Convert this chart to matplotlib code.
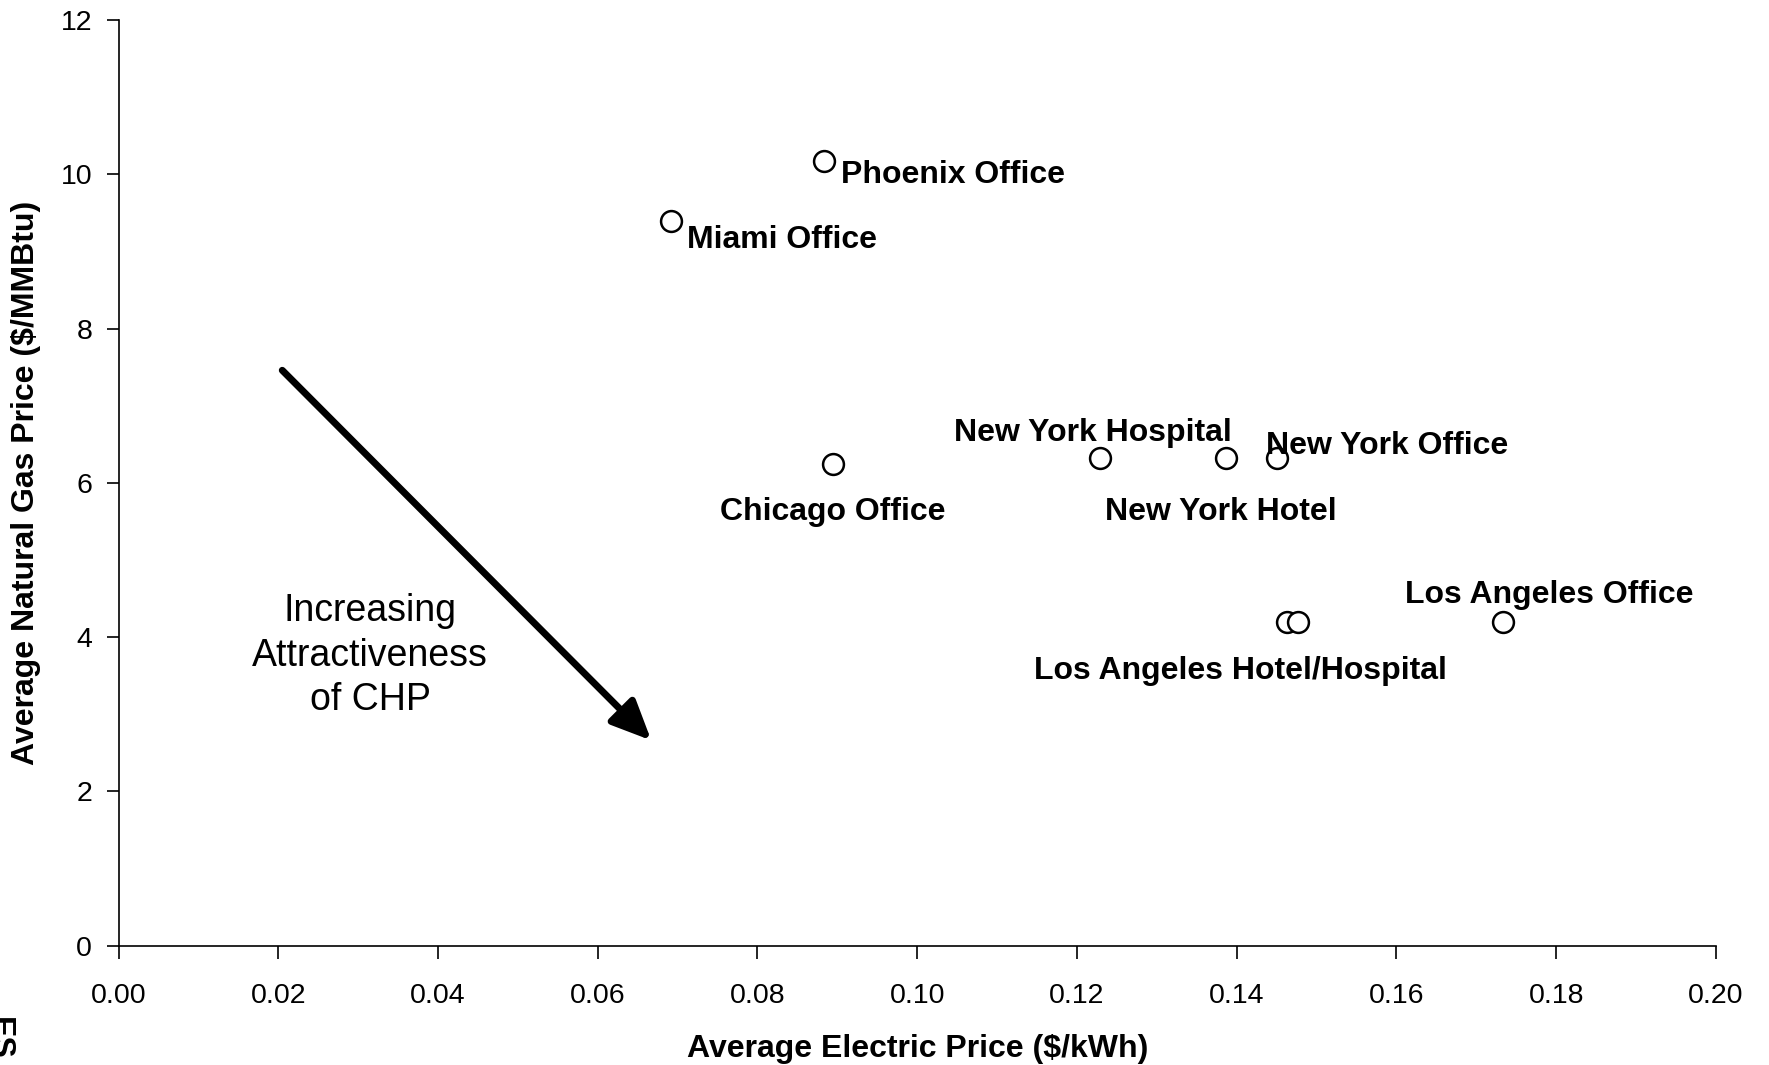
import matplotlib
matplotlib.use("Agg")
import matplotlib.pyplot as plt

plt.rcParams['font.family'] = ['Liberation Sans', 'DejaVu Sans']

# electric price ($/kWh) vs natural gas price ($/MMBtu)
sites = ["Phoenix Office", "Miami Office", "Chicago Office", "New York Hospital",
         "New York Hotel", "New York Office", "Los Angeles Hotel",
         "Los Angeles Hospital", "Los Angeles Office"]
elec_price = [0.0883, 0.0692, 0.0894, 0.1229, 0.1386, 0.1451, 0.1463, 0.1477, 0.1734]
gas_price = [10.17, 9.39, 6.25, 6.32, 6.32, 6.32, 4.20, 4.20, 4.20]

# label text, index of the point it sits next to
labels = ["Phoenix Office", "Miami Office", "Chicago Office", "New York Hospital",
          "New York Hotel", "New York Office", "Los Angeles Hotel/Hospital",
          "Los Angeles Office"]
label_point = [0, 1, 2, 3, 4, 5, 6, 8]

x_ticks = [0.00, 0.02, 0.04, 0.06, 0.08, 0.10, 0.12, 0.14, 0.16, 0.18, 0.20]
y_ticks = [0, 2, 4, 6, 8, 10, 12]

fig = plt.figure(figsize=(17.69, 10.65), dpi=100)
ax = fig.add_axes([0.067, 0.1122, 0.903, 0.8688])

ax.plot(elec_price, gas_price, linestyle='none', marker='o', markersize=15,
        markerfacecolor='white', markeredgecolor='black', markeredgewidth=1.8,
        clip_on=False)

# label placement: offset in pixels, alignment
offsets = [(17, -14, 'left'), (16, -19, 'left'), (0, -48, 'center'),
           (-7, 25, 'center'), (-5, -54, 'center'), (110, 12, 'center'),
           (-47, -49, 'center'), (46, 27, 'center')]
for text, idx, (dx, dy, ha) in zip(labels, label_point, offsets):
    ax.annotate(text, (elec_price[idx], gas_price[idx]), xytext=(dx, dy),
                textcoords='offset pixels', ha=ha, va='center',
                fontsize=23, fontweight='bold')

ax.annotate("", xy=(0.0667, 2.66), xytext=(0.0205, 7.46),
            arrowprops=dict(arrowstyle='-|>,head_length=0.6,head_width=0.27',
                            lw=5, color='black', mutation_scale=40,
                            shrinkA=0, shrinkB=0))
ax.text(0.0315, 3.76, "Increasing\nAttractiveness\nof CHP", ha='center',
        va='center', fontsize=27, linespacing=1.3)

ax.set_xlim(0, 0.20)
ax.set_ylim(0, 12)
ax.set_xticks(x_ticks)
ax.set_xticklabels([f"{t:.2f}" for t in x_ticks])
ax.set_yticks(y_ticks)
ax.tick_params(labelsize=20.5, length=9, width=1.2, direction='out', pad=18)
ax.tick_params(axis='y', pad=10)
for s in ['top', 'right']:
    ax.spines[s].set_visible(False)
for s in ['left', 'bottom']:
    ax.spines[s].set_linewidth(1.2)

ax.set_xlabel("Average Electric Price ($/kWh)", fontsize=23, fontweight='bold',
              labelpad=18)
ax.set_ylabel("Average Natural Gas Price ($/MMBtu)", fontsize=23,
              fontweight='bold', labelpad=14)

# clipped page-margin fragment at bottom left
fig.text(-0.009, 0.025, "ES", rotation=-90, fontsize=23, fontweight='bold',
         ha='left', va='center')

fig.savefig("out.png", dpi=100)
